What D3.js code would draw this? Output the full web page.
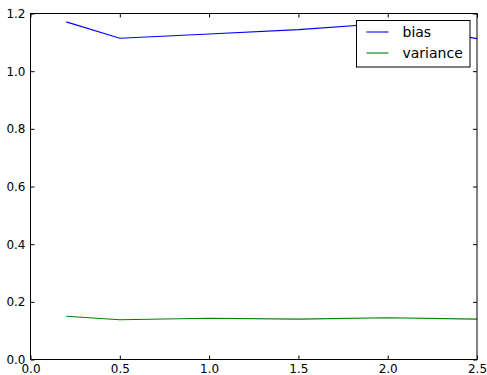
<!DOCTYPE html>
<html>
<head>
<meta charset="utf-8">
<script src="https://cdn.jsdelivr.net/npm/d3@7"></script>
<style>
  body { margin: 0; background: #fff; }
  svg { display: block; font-family: "DejaVu Sans", sans-serif; }
  .tick text { fill: #000; }
</style>
</head>
<body>
<div id="graph-container"></div>
<script>
// data
const xValues = [0.2, 0.5, 1.0, 1.5, 2.0, 2.5];
const bias = [1.171, 1.114, 1.129, 1.144, 1.166, 1.113];
const variance = [0.150, 0.138, 0.143, 0.140, 0.145, 0.140];
const xTicks = [0.0, 0.5, 1.0, 1.5, 2.0, 2.5];
const yTicks = [0.0, 0.2, 0.4, 0.6, 0.8, 1.0, 1.2];
const seriesNames = ['bias', 'variance'];
const seriesColors = ['#0000ff', '#008000'];

const width = 487;
const height = 375;
const margin = {top: 13.5, right: 10, bottom: 15.5, left: 30.5};

const svg = d3.select('#graph-container')
  .append('svg')
  .attr('width', width)
  .attr('height', height);

const xScale = d3.scaleLinear()
  .domain([0, 2.5])
  .range([margin.left, width - margin.right]);

const yScale = d3.scaleLinear()
  .domain([0, 1.2])
  .range([height - margin.bottom, margin.top]);

const fmt = d3.format('.1f');

// Lines
const line = d3.line()
  .x((d) => xScale(d[0]))
  .y((d) => yScale(d[1]));

[bias, variance].forEach((vals, i) => {
  svg.append('path')
    .attr('d', line(xValues.map((x, j) => [x, vals[j]])))
    .attr('stroke', seriesColors[i])
    .attr('stroke-width', 1.1)
    .attr('fill', 'none');
});

// Axes, ticks pointing inward on every side
const plotW = xScale.range()[1] - xScale.range()[0];
const plotH = yScale.range()[0] - yScale.range()[1];

svg.append('g')
  .attr('transform', `translate(0,${yScale(0)})`)
  .call(d3.axisBottom(xScale).tickValues(xTicks).tickFormat(fmt)
    .tickSizeInner(-4).tickSizeOuter(0).tickPadding(5))
  .call((g) => g.select('.domain').remove())
  .selectAll('text').attr('font-size', 12).attr('font-family', 'DejaVu Sans');

svg.append('g')
  .attr('transform', `translate(0,${yScale(1.2)})`)
  .call(d3.axisTop(xScale).tickValues(xTicks).tickFormat('')
    .tickSizeInner(-4).tickSizeOuter(0))
  .call((g) => g.select('.domain').remove());

svg.append('g')
  .attr('transform', `translate(${xScale(0)},0)`)
  .call(d3.axisLeft(yScale).tickValues(yTicks).tickFormat(fmt)
    .tickSizeInner(-4).tickSizeOuter(0).tickPadding(5))
  .call((g) => g.select('.domain').remove())
  .selectAll('text').attr('font-size', 12).attr('font-family', 'DejaVu Sans');

svg.append('g')
  .attr('transform', `translate(${xScale(2.5)},0)`)
  .call(d3.axisRight(yScale).tickValues(yTicks).tickFormat('')
    .tickSizeInner(-4).tickSizeOuter(0))
  .call((g) => g.select('.domain').remove());

svg.selectAll('.tick line').attr('stroke', '#000');

// Frame
svg.append('rect')
  .attr('x', xScale(0))
  .attr('y', yScale(1.2))
  .attr('width', plotW)
  .attr('height', plotH)
  .attr('fill', 'none')
  .attr('stroke', '#000')
  .attr('stroke-width', 1);

// Legend
const legend = svg.append('g')
  .attr('transform', 'translate(356.5,20.5)');

legend.append('rect')
  .attr('width', 113.5)
  .attr('height', 46.5)
  .attr('fill', '#fff')
  .attr('stroke', '#000')
  .attr('stroke-width', 1);

seriesNames.forEach((name, i) => {
  const y = 11.5 + i * 21;
  legend.append('line')
    .attr('x1', 10).attr('x2', 32)
    .attr('y1', y).attr('y2', y)
    .attr('stroke', seriesColors[i])
    .attr('stroke-width', 1.1);
  legend.append('text')
    .attr('x', 46)
    .attr('y', y + 5)
    .attr('font-size', 14)
    .attr('font-family', 'DejaVu Sans')
    .text(name);
});
</script>
</body>
</html>
